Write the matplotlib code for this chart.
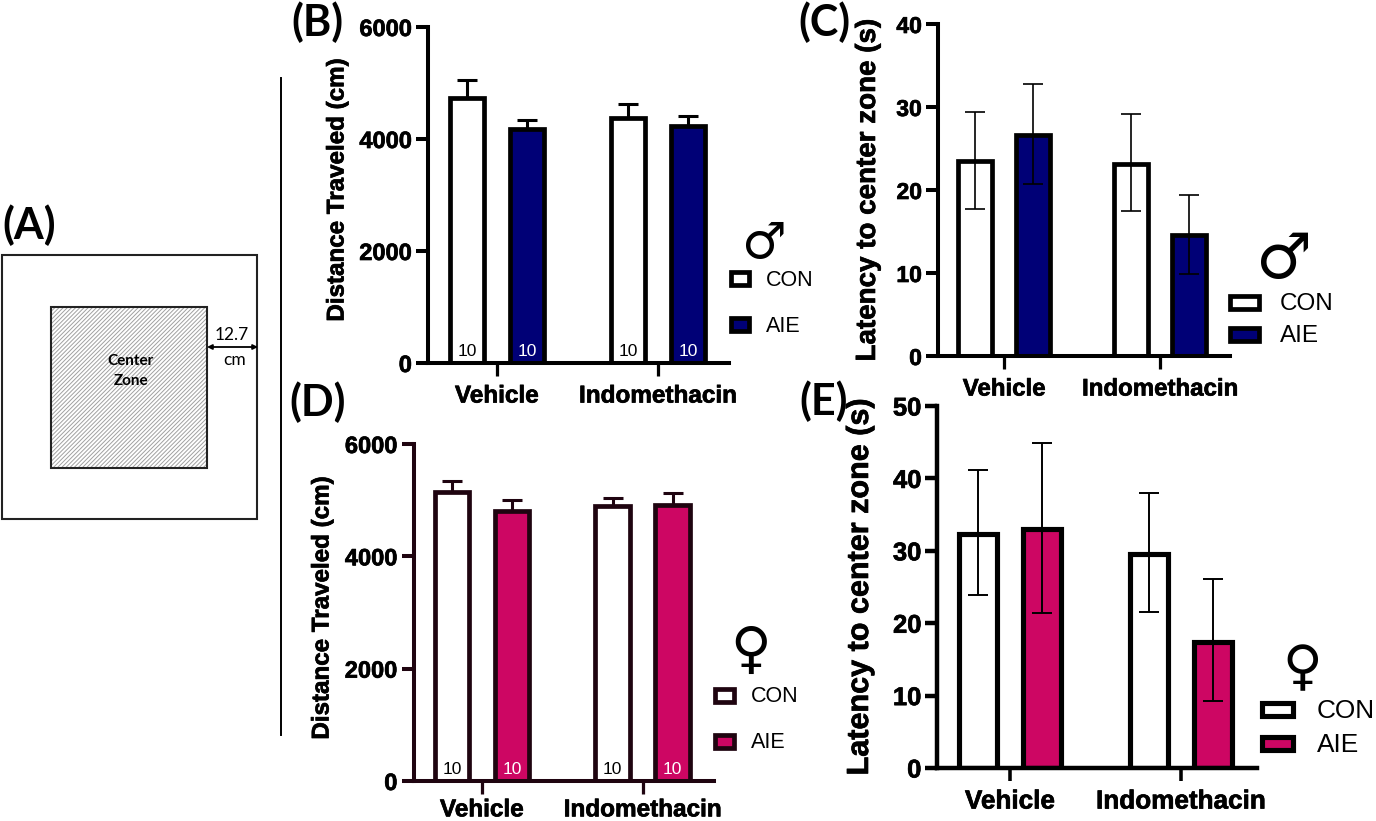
import matplotlib
matplotlib.use('Agg')
import matplotlib.pyplot as plt
import matplotlib.patheffects as pe
from matplotlib.patches import Rectangle
import warnings
warnings.filterwarnings('ignore')

plt.rcParams['font.family'] = ['Liberation Sans', 'DejaVu Sans']
plt.rcParams['hatch.linewidth'] = 0.7

W, H = 1376, 821
NAVY = '#000076'
MAGENTA = '#cd0663'
DARK = '#1f0410'
HEAVY = [pe.withStroke(linewidth=0.5, foreground='black')]

# data
groups = ['Vehicle', 'Indomethacin']
legend_labels = ['CON', 'AIE']
n_labels = ['10', '10', '10', '10']

b_mean = [4732, 4179, 4381, 4232]
b_upper = [5060, 4333, 4625, 4417]

c_mean = [23.5, 26.65, 23.15, 14.55]
c_upper = [29.35, 32.8, 29.1, 19.4]
c_lower = [17.7, 20.7, 17.5, 9.9]

d_mean = [5139, 4813, 4896, 4914]
d_upper = [5347, 5009, 5033, 5134]

e_mean = [32.3, 33.0, 29.5, 17.4]
e_upper = [41.1, 44.9, 38.0, 26.1]
e_lower = [23.9, 21.4, 21.6, 9.25]

fig = plt.figure(figsize=(W / 100, H / 100), dpi=100)

# overlay in pixel coordinates, for panel A, letters and legends
ov = fig.add_axes([0, 0, 1, 1], zorder=5)
ov.set_xlim(0, W)
ov.set_ylim(H, 0)
ov.axis('off')
ov.patch.set_alpha(0)


def panel(box, ticks, offset, barw, mean, upper, lower, ymax, ystep, color, ylabel, label_xy,
          edge='black', lw=3.4, axis_lw=2.9, err_lw=1.2, tick_fs=17, cat_fs=17.5, lab_fs=17.4,
          cat_pad=6, counts=False, on_top=True):
    left, right, top, bottom = box
    ax = fig.add_axes([left / W, 1 - bottom / H, (right - left) / W, (bottom - top) / H])
    step = ticks[1] - ticks[0]
    ax.set_xlim((left - ticks[0]) / step, (right - ticks[0]) / step)
    ax.set_ylim(0, ymax)
    dx = offset / step
    xs = [0 - dx, 0 + dx, 1 - dx, 1 + dx]
    fills = ['white', color, 'white', color]
    bars = ax.bar(xs, mean, width=barw / step, color=fills, edgecolor=edge, linewidth=lw, zorder=3)
    for b in bars:
        b.set_joinstyle('miter')
    yerr = [[m - l for m, l in zip(mean, lower)], [u - m for m, u in zip(mean, upper)]]
    ax.errorbar(xs, mean, yerr=yerr, fmt='none', ecolor=edge, elinewidth=err_lw, capsize=7,
                capthick=err_lw, zorder=4 if on_top else 2, clip_on=False)
    if counts:
        for x, t, f in zip(xs, n_labels, ['black', 'white', 'black', 'white']):
            ax.annotate(t, (x, 0), xytext=(0, 5), textcoords='offset points', ha='center',
                        va='baseline', fontsize=12.5, color=f, zorder=5)
    for s in ['top', 'right']:
        ax.spines[s].set_visible(False)
    for s in ['left', 'bottom']:
        ax.spines[s].set_linewidth(axis_lw)
        ax.spines[s].set_color(edge)
        ax.spines[s].set_zorder(6)
    ax.set_yticks(range(0, ymax + 1, ystep))
    ax.set_xticks([0, 1])
    ax.set_xticklabels(groups, fontsize=cat_fs, fontweight='bold', path_effects=HEAVY)
    ax.tick_params(axis='y', length=8.6, width=axis_lw, color=edge, pad=3, labelsize=tick_fs)
    ax.tick_params(axis='x', length=9.5, width=axis_lw * 0.8, color=edge, pad=cat_pad)
    for t in ax.get_yticklabels():
        t.set_fontweight('bold')
        t.set_path_effects(HEAVY)
    ax.set_ylabel(ylabel, fontsize=lab_fs, fontweight='bold', va='center', path_effects=HEAVY)
    ax.yaxis.set_label_coords(label_xy[0], label_xy[1], transform=ov.transData)
    return ax


panel((428, 729, 27, 363), (497, 658), 30, 34.8, b_mean, b_upper, b_mean, 6000, 2000, NAVY,
      'Distance Traveled (cm)', (337, 190), err_lw=2.2, counts=True, on_top=False)
panel((938, 1230, 24, 356), (1004, 1160), 29, 33.6, c_mean, c_upper, c_lower, 40, 10, NAVY,
      'Latency to center zone (s)', (868, 190), tick_fs=16.5, cat_fs=17.3, lab_fs=20)
panel((413.5, 714, 444, 781), (482, 642.7), 30, 34.8, d_mean, d_upper, d_mean, 6000, 2000, MAGENTA,
      'Distance Traveled (cm)', (322, 608), edge=DARK, err_lw=2.2, cat_pad=3, counts=True, on_top=False)
panel((937.4, 1257, 406, 768), (1010, 1181), 32, 37.5, e_mean, e_upper, e_lower, 50, 10, MAGENTA,
      'Latency to center zone (s)', (860, 587), lw=3.7, axis_lw=3.2, err_lw=1.4, tick_fs=18.4, cat_fs=18.8, lab_fs=22)


def legend(x0, x1, y_con, y_aie, h, text_x, color, fs, edge='black', lw=3.4):
    for yc, fc, t in zip([y_con, y_aie], ['white', color], legend_labels):
        ov.add_patch(Rectangle((x0, yc - h / 2), x1 - x0, h, facecolor=fc, edgecolor=edge,
                               linewidth=lw, joinstyle='miter'))
        ov.text(text_x, yc + 1, t, fontsize=fs, va='center', ha='left', color='black')


legend(731, 749, 279, 325, 13, 766, NAVY, 15.5)
legend(1230, 1259, 303, 335, 13, 1280, NAVY, 17.5)
legend(715, 734, 696, 742, 13, 751, MAGENTA, 15.5, edge=DARK)
legend(1262, 1293, 710, 744, 13, 1317, MAGENTA, 18.9, lw=3.7)

# sex symbols
sym = ['DejaVu Sans']
ov.text(763, 244, '\u2642', fontsize=36, ha='center', va='center', family=sym)
ov.text(1284, 261, '\u2642', fontsize=45, ha='center', va='center', family=sym)
ov.text(751, 652, '\u2640', fontsize=40, ha='center', va='center', family=sym)
ov.text(1302, 669, '\u2640', fontsize=39, ha='center', va='center', family=sym)

# panel A schematic
ov.add_patch(Rectangle((2, 255), 255, 264, facecolor='white', edgecolor='#222222', linewidth=1.5))
ov.add_patch(Rectangle((51, 307), 156, 161, facecolor='white', edgecolor='#a0a0a0', hatch='////////', linewidth=0))
ov.add_patch(Rectangle((51, 307), 156, 161, fill=False, edgecolor='#222222', linewidth=1.5))
ov.annotate('', xy=(258, 347), xytext=(207, 347),
            arrowprops=dict(arrowstyle='<|-|>', color='black', lw=1.3, mutation_scale=7, shrinkA=0, shrinkB=0))
ov.text(232, 335, '12.7', fontsize=12.5, ha='center', va='center', family=['Lato'])
ov.text(235, 360, 'cm', fontsize=12.5, ha='center', va='center', family=['Lato'])
ov.text(131, 361, 'Center', fontsize=11, fontweight='bold', ha='center', va='center', family=['Lato'])
ov.text(131, 381, 'Zone', fontsize=11, fontweight='bold', ha='center', va='center', family=['Lato'])

# divider
ov.plot([281, 281], [78, 735], color='black', lw=1.4)

# panel letters
for t, x, y in [('(A)', 29, 225), ('(B)', 317, 22), ('(C)', 824, 22), ('(D)', 318, 402), ('(E)', 824, 401)]:
    ov.text(x, y, t, fontsize=31, fontweight='bold', ha='center', va='center', family=['Lato'])

fig.savefig('out.png', dpi=100)
plt.close()
